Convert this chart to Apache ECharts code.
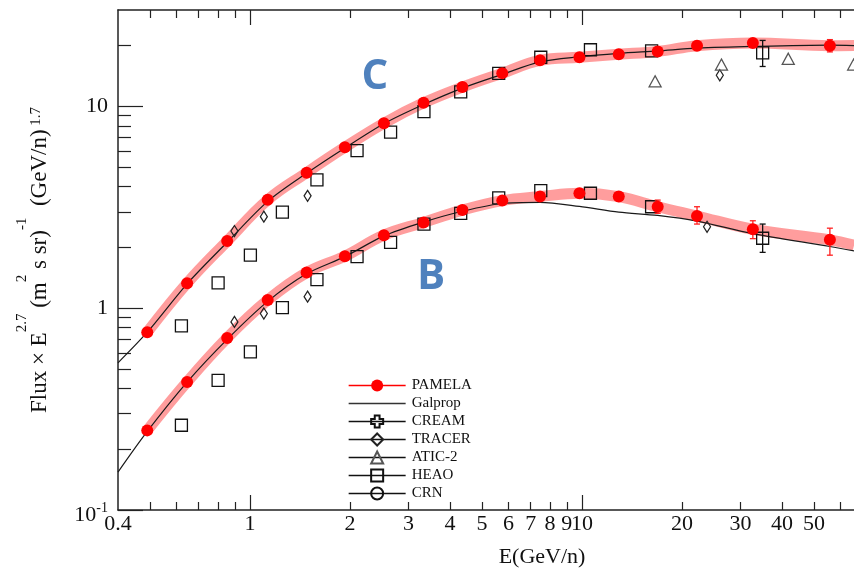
<!DOCTYPE html>
<html>
<head>
<meta charset="utf-8">
<script src="https://cdn.jsdelivr.net/npm/echarts@6/dist/echarts.min.js"></script>
<style>
  html, body { margin: 0; padding: 0; background: #fff; }
  #chart { width: 854px; height: 569px; }
</style>
</head>
<body>
<div id="chart"></div>
<script>
// ---- Data: Flux x E^2.7 for Carbon (C) and Boron (B) vs kinetic energy per nucleon ----
const pamelaE = [0.49, 0.646, 0.853, 1.13, 1.48, 1.93, 2.53, 3.33, 4.36, 5.75, 7.47, 9.82, 12.9, 16.9, 22.2, 32.7, 55.8];
const pamelaC = [0.76, 1.33, 2.15, 3.44, 4.69, 6.27, 8.25, 10.4, 12.45, 14.6, 16.9, 17.5, 18.1, 18.7, 19.96, 20.6, 19.96];
const pamelaB = [0.248, 0.431, 0.712, 1.096, 1.50, 1.81, 2.30, 2.66, 3.06, 3.41, 3.57, 3.71, 3.57, 3.18, 2.86, 2.46, 2.18];
const pamelaCLo = [null, null, null, null, null, null, null, null, null, null, null, null, null, null, null, null, 18.6];
const pamelaCHi = [null, null, null, null, null, null, null, null, null, null, null, null, null, null, null, null, 21.4];
const pamelaBLo = [null, null, null, null, null, null, null, null, null, null, null, null, null, 2.95, 2.61, 2.21, 1.83];
const pamelaBHi = [null, null, null, null, null, null, null, null, null, null, null, null, null, 3.43, 3.18, 2.71, 2.49];

// systematic band around the PAMELA measurements
const bandE = [0.49, 0.646, 0.853, 1.13, 1.48, 1.93, 2.53, 3.33, 4.36, 5.75, 7.47, 9.82, 12.9, 16.9, 22.2, 32.7, 55.8, 66];
const bandC = [0.76, 1.33, 2.15, 3.44, 4.69, 6.27, 8.25, 10.4, 12.45, 14.6, 16.9, 17.5, 18.1, 18.7, 19.96, 20.6, 19.96, 20.0];
const bandB = [0.248, 0.431, 0.712, 1.096, 1.50, 1.81, 2.30, 2.66, 3.06, 3.41, 3.57, 3.71, 3.57, 3.18, 2.86, 2.46, 2.18, 2.05];

// Galprop model curves
const galE = [0.4, 0.49, 0.646, 0.853, 1.13, 1.48, 1.93, 2.53, 3.33, 4.36, 5.75, 7.47, 9.82, 12.9, 16.9, 22.2, 32.7, 55.8, 66];
const galC = [0.536, 0.76, 1.32, 2.12, 3.38, 4.66, 6.22, 8.2, 10.2, 12.3, 14.4, 16.6, 17.6, 18.3, 18.8, 19.4, 19.8, 20.1, 20.0];
const galB = [0.154, 0.245, 0.43, 0.70, 1.08, 1.48, 1.80, 2.28, 2.67, 3.02, 3.30, 3.34, 3.19, 2.99, 2.88, 2.70, 2.34, 2.02, 1.92];

// HEAO
const heaoE = [0.621, 0.801, 1.002, 1.251, 1.59, 2.10, 2.65, 3.34, 4.31, 5.61, 7.51, 10.6, 16.2, 35.0];
const heaoC = [0.817, 1.335, 1.83, 2.99, 4.32, 6.03, 7.45, 9.42, 11.8, 14.55, 17.5, 19.06, 18.8, 18.4];
const heaoB = [0.263, 0.439, 0.607, 1.006, 1.385, 1.80, 2.12, 2.61, 2.95, 3.52, 3.82, 3.71, 3.18, 2.22];
const heaoErrE = [35.0];
const heaoCLo = [15.75], heaoCHi = [21.2];
const heaoBLo = [1.89], heaoBHi = [2.61];

// TRACER
const tracerCE = [0.897, 1.10, 1.49, 26.0];
const tracerC = [2.41, 2.84, 3.60, 14.25];
const tracerBE = [0.897, 1.10, 1.49, 23.8];
const tracerB = [0.855, 0.941, 1.14, 2.53];

// ATIC-2
const aticE = [16.6, 26.3, 41.8, 65.8];
const aticC = [13.3, 16.1, 17.2, 16.1];

// Axis ticks and labels
const xMinorTicks = [0.5, 0.6, 0.7, 0.8, 0.9, 2, 3, 4, 5, 6, 7, 8, 9, 20, 30, 40, 50, 60, 70, 80, 90];
const xMajorTicks = [1, 10];
const xTickLabels = [0.4, 1, 2, 3, 4, 5, 6, 7, 8, 9, 10, 20, 30, 40, 50];
const yMinorTicks = [0.2, 0.3, 0.4, 0.5, 0.6, 0.7, 0.8, 0.9, 2, 3, 4, 5, 6, 7, 8, 9, 20];
const yMajorTicks = [0.1, 1, 10];
const yTickLabels = [0.1, 1, 10];

// ---- Styling ----
const SERIF = '"Liberation Serif", "DejaVu Serif", serif';
const INK = '#111';
const AXIS = '#222';

const zip = (xs, ys) => xs.map((x, i) => [x, ys[i]]);
const errRows = (xs, lo, hi) => xs.map((x, i) => [x, lo[i], hi[i]]).filter(r => r[1] != null);

const xBase = {
  type: 'log', logBase: 10, min: 0.4, max: 100,
  splitLine: { show: false },
  axisLine: { show: false, onZero: false },
  axisLabel: { show: false },
  axisTick: { show: false }
};
const yBase = {
  type: 'log', logBase: 10, min: 0.1, max: 30,
  splitLine: { show: false },
  axisLine: { show: false, onZero: false },
  axisLabel: { show: false },
  axisTick: { show: false }
};
const tick = (values, len) => ({
  show: true, inside: true, length: len, customValues: values,
  lineStyle: { color: AXIS, width: 1.2 }
});
const line = { show: true, onZero: false, lineStyle: { color: AXIS, width: 1.5 } };

function errorBars(name, rows, color) {
  return {
    type: 'custom', name: name, xAxisIndex: 0, yAxisIndex: 0, z: 4, silent: true,
    data: rows,
    encode: { x: 0, y: [1, 2] },
    renderItem: function (params, api) {
      const lo = api.coord([api.value(0), api.value(1)]);
      const hi = api.coord([api.value(0), api.value(2)]);
      const w = 3;
      const style = { stroke: color, lineWidth: 1.3 };
      return {
        type: 'group',
        children: [
          { type: 'line', shape: { x1: lo[0], y1: lo[1], x2: hi[0], y2: hi[1] }, style: style },
          { type: 'line', shape: { x1: lo[0] - w, y1: lo[1], x2: lo[0] + w, y2: lo[1] }, style: style },
          { type: 'line', shape: { x1: hi[0] - w, y1: hi[1], x2: hi[0] + w, y2: hi[1] }, style: style }
        ]
      };
    }
  };
}

function markers(name, data, symbol, size, fill, stroke, z) {
  return {
    type: 'line', name: name, data: data, z: z,
    symbol: symbol, symbolSize: size, showSymbol: true,
    lineStyle: { width: 0, opacity: 0 },
    itemStyle: { color: fill, borderColor: stroke, borderWidth: fill === 'transparent' ? 1.3 : 0 },
    emphasis: { disabled: true }
  };
}

function band(name, data) {
  return {
    type: 'line', name: name, data: data, z: 1, smooth: 0.4, symbol: 'none', silent: true,
    lineStyle: { width: 11, color: 'rgba(255,60,60,0.5)', cap: 'butt', join: 'round' },
    emphasis: { disabled: true }
  };
}

function model(data) {
  return {
    type: 'line', name: 'Galprop', data: data, z: 2, smooth: 0.3, symbol: 'none', silent: true,
    lineStyle: { width: 1.2, color: '#1a1a1a' },
    itemStyle: { color: '#1a1a1a' },
    emphasis: { disabled: true }
  };
}

const plusPath = 'path://M3,0H7V3H10V7H7V10H3V7H0V3H3Z';

const chart = echarts.init(document.getElementById('chart'), null, { renderer: 'canvas' });
chart.setOption({
  animation: false,
  backgroundColor: '#fff',
  // the energy axis runs on past the right edge of the canvas
  grid: { left: 118, top: 10, width: 796, height: 500, containLabel: false, outerBoundsMode: 'none' },
  xAxis: [
    Object.assign({}, xBase, {
      position: 'bottom', axisLine: line, axisTick: tick(xMinorTicks, 8),
      axisLabel: {
        show: true, customValues: xTickLabels, margin: 3,
        fontFamily: SERIF, fontSize: 22, color: INK,
        formatter: v => String(v)
      }
    }),
    Object.assign({}, xBase, { position: 'bottom', axisTick: tick(xMajorTicks, 15) }),
    Object.assign({}, xBase, { position: 'top', axisLine: line, axisTick: tick(xMinorTicks, 8) }),
    Object.assign({}, xBase, { position: 'top', axisTick: tick(xMajorTicks, 15) })
  ],
  yAxis: [
    Object.assign({}, yBase, {
      position: 'left', axisLine: line, axisTick: tick(yMinorTicks, 13),
      axisLabel: {
        show: true, customValues: yTickLabels, margin: 10,
        fontFamily: SERIF, fontSize: 22, color: INK,
        formatter: v => (Math.abs(v - 0.1) < 1e-9 ? '{b|10}{s|-1}' : String(v)),
        rich: {
          b: { fontFamily: SERIF, fontSize: 22, color: INK, height: 22, lineHeight: 32, verticalAlign: 'bottom' },
          s: { fontFamily: SERIF, fontSize: 14, color: INK, height: 28, lineHeight: 28, verticalAlign: 'top' }
        }
      }
    }),
    Object.assign({}, yBase, { position: 'left', axisTick: tick(yMajorTicks, 25) })
  ],
  legend: {
    orient: 'vertical', left: 343, top: 373,
    itemWidth: 57, itemHeight: 15, itemGap: 3,
    selectedMode: false,
    textStyle: { fontFamily: SERIF, fontSize: 15, color: INK, padding: [0, 0, 0, 1] },
    data: [
      { name: 'PAMELA', lineStyle: { color: '#ff0000', width: 1.3, opacity: 1 } },
      { name: 'Galprop', lineStyle: { color: '#333', width: 1.3, opacity: 1 }, itemStyle: { opacity: 0 } },
      { name: 'CREAM', lineStyle: { color: '#111', width: 1.3, opacity: 1 } },
      { name: 'TRACER', lineStyle: { color: '#111', width: 1.3, opacity: 1 } },
      { name: 'ATIC-2', lineStyle: { color: '#111', width: 1.3, opacity: 1 } },
      { name: 'HEAO', lineStyle: { color: '#111', width: 1.3, opacity: 1 } },
      { name: 'CRN', lineStyle: { color: '#111', width: 1.3, opacity: 1 } }
    ]
  },
  graphic: [
    {
      type: 'text', x: 40, y: 260, rotation: Math.PI / 2, silent: true,
      style: {
        text: '{n|Flux × E}{s|2.7}{n| (m}{s|2}{n| s sr)}{s|-1}{n|  (GeV/n)}{t| 1.7}',
        align: 'center', verticalAlign: 'middle',
        rich: {
          n: { fontFamily: SERIF, fontSize: 23, fill: INK, height: 50, lineHeight: 50, verticalAlign: 'top' },
          s: { fontFamily: SERIF, fontSize: 15, fill: INK, height: 14, verticalAlign: 'top' },
          t: { fontFamily: SERIF, fontSize: 15, fill: INK, height: 42, verticalAlign: 'top' }
        }
      }
    },
    {
      type: 'text', x: 542, y: 557, silent: true,
      style: { text: 'E(GeV/n)', fontFamily: SERIF, fontSize: 22, fill: INK, align: 'center', verticalAlign: 'middle' }
    },
    {
      type: 'text', x: 375, y: 77, silent: true,
      style: { text: 'C', fontFamily: '"Open Sans", sans-serif', fontWeight: 'bold', fontSize: 42, fill: '#4F81BD', align: 'center', verticalAlign: 'middle' }
    },
    {
      type: 'text', x: 431, y: 277, silent: true,
      style: { text: 'B', fontFamily: '"Open Sans", sans-serif', fontWeight: 'bold', fontSize: 42, fill: '#4F81BD', align: 'center', verticalAlign: 'middle' }
    }
  ],
  series: [
    band('PAMELA band C', zip(bandE, bandC)),
    band('PAMELA band B', zip(bandE, bandB)),
    model(zip(galE, galC)),
    model(zip(galE, galB)),
    markers('CREAM', [], plusPath, 11, 'transparent', '#111', 3),
    markers('TRACER', zip(tracerCE, tracerC), 'diamond', [7, 11], 'transparent', '#222', 3),
    markers('TRACER', zip(tracerBE, tracerB), 'diamond', [7, 11], 'transparent', '#222', 3),
    markers('ATIC-2', zip(aticE, aticC), 'triangle', [12, 11], 'transparent', '#555', 3),
    markers('HEAO', zip(heaoE, heaoC), 'rect', 12, 'transparent', '#111', 3),
    markers('HEAO', zip(heaoE, heaoB), 'rect', 12, 'transparent', '#111', 3),
    markers('CRN', [], 'circle', 12, 'transparent', '#111', 3),
    errorBars('HEAO C error', errRows(heaoErrE, heaoCLo, heaoCHi), '#111'),
    errorBars('HEAO B error', errRows(heaoErrE, heaoBLo, heaoBHi), '#111'),
    errorBars('PAMELA C error', errRows(pamelaE, pamelaCLo, pamelaCHi), '#ff2020'),
    errorBars('PAMELA B error', errRows(pamelaE, pamelaBLo, pamelaBHi), '#ff2020'),
    markers('PAMELA', zip(pamelaE, pamelaC), 'circle', 12, '#ff0000', '#ff0000', 5),
    markers('PAMELA', zip(pamelaE, pamelaB), 'circle', 12, '#ff0000', '#ff0000', 5)
  ]
});
</script>
</body>
</html>
